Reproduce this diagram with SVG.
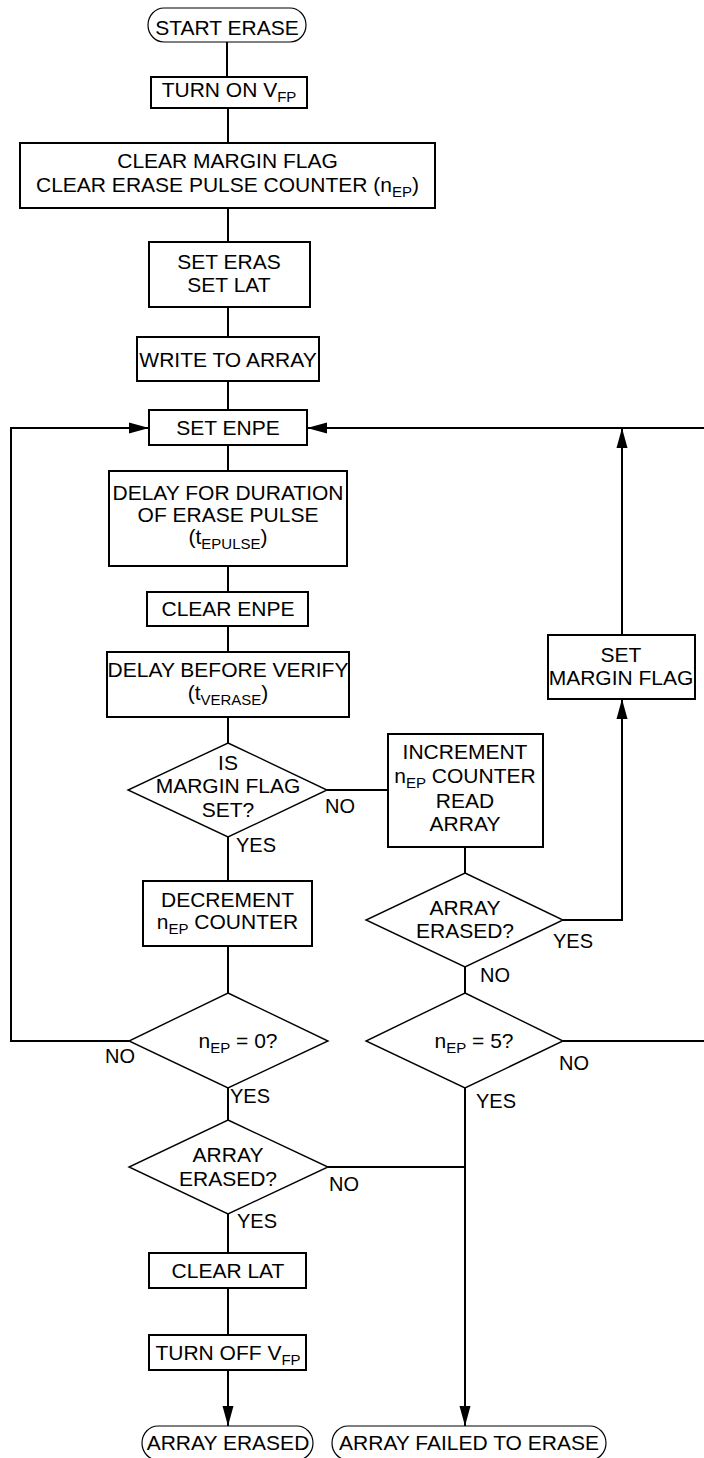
<svg xmlns="http://www.w3.org/2000/svg" width="704" height="1458" viewBox="0 0 704 1458">
<style>
  text { font-family: "Liberation Sans", Arial, sans-serif; font-size: 21px; fill: #000; }
  .c { text-anchor: middle; }
  .lbl { font-size: 20px; }
  .sub { font-size: 15px; }
  .box { fill: #fff; stroke: #000; stroke-width: 2; }
  .dia { fill: #fff; stroke: #000; stroke-width: 1.4; }
  .term { fill: #fff; stroke: #000; stroke-width: 1.2; }
  .ln { fill: none; stroke: #000; stroke-width: 2; }
  .arr { fill: none; stroke: #000; stroke-width: 2; marker-end: url(#ah); }
</style>
<defs>
  <marker id="ah" markerUnits="userSpaceOnUse" markerWidth="20" markerHeight="12" refX="20" refY="6" orient="auto">
    <path d="M0,0.5 L20,6 L0,11.5 z" fill="#000"/>
  </marker>
</defs>
<rect width="704" height="1458" fill="#fff"/>

<g id="connectors">
  <path class="ln" d="M227,42 V77"/>
  <path class="ln" d="M228,108 V143"/>
  <path class="ln" d="M228,208 V242"/>
  <path class="ln" d="M228,307 V337"/>
  <path class="ln" d="M228,381 V410"/>
  <path class="ln" d="M228,445 V471"/>
  <path class="ln" d="M228,566 V592"/>
  <path class="ln" d="M228,626 V652"/>
  <path class="ln" d="M228,717 V743"/>
  <path class="ln" d="M228,837 V881"/>
  <path class="ln" d="M228,946 V993"/>
  <path class="ln" d="M228,1088 V1120"/>
  <path class="ln" d="M228,1214 V1253"/>
  <path class="ln" d="M228,1288 V1335"/>
  <path class="arr" d="M228,1370 V1426"/>
  <path class="ln" d="M327,790 H388"/>
  <path class="ln" d="M465,847 V873"/>
  <path class="ln" d="M465,967 V993"/>
  <path class="arr" d="M465,1088 V1426"/>
  <path class="ln" d="M328,1167 H465"/>
  <path class="arr" d="M563,920 H622 V699"/>
  <path class="arr" d="M622,635 V428"/>
  <path class="ln" d="M563,1041 H707 V428"/>
  <path class="arr" d="M707,428 H307"/>
  <path class="arr" d="M129,1041 H11 V428 H149"/>
</g>

<g id="start">
  <rect class="term" x="148" y="8" width="158" height="34" rx="16" ry="17"/>
  <text class="c" x="227" y="35">START ERASE</text>
</g>
<g id="turn-on">
  <rect class="box" x="151" y="77" width="156" height="31"/>
  <text class="c" x="229" y="97">TURN ON V<tspan class="sub" dy="5">FP</tspan></text>
</g>
<g id="clear-margin">
  <rect class="box" x="20" y="143" width="415" height="65"/>
  <text class="c" x="227.5" y="168">CLEAR MARGIN FLAG</text>
  <text class="c" x="227.5" y="192">CLEAR ERASE PULSE COUNTER (n<tspan class="sub" dy="5">EP</tspan><tspan dy="-5">)</tspan></text>
</g>
<g id="set-eras">
  <rect class="box" x="149" y="242" width="161" height="65"/>
  <text class="c" x="229" y="269">SET ERAS</text>
  <text class="c" x="229" y="292">SET LAT</text>
</g>
<g id="write-array">
  <rect class="box" x="137" y="337" width="182" height="44"/>
  <text class="c" x="228" y="367">WRITE TO ARRAY</text>
</g>
<g id="set-enpe">
  <rect class="box" x="149" y="410" width="158" height="35"/>
  <text class="c" x="228" y="435">SET ENPE</text>
</g>
<g id="delay-pulse">
  <rect class="box" x="109" y="471" width="238" height="95"/>
  <text class="c" x="228" y="500">DELAY FOR DURATION</text>
  <text class="c" x="228" y="522">OF ERASE PULSE</text>
  <text class="c" x="228" y="544">(t<tspan class="sub" dy="5">EPULSE</tspan><tspan dy="-5">)</tspan></text>
</g>
<g id="clear-enpe">
  <rect class="box" x="147" y="592" width="161" height="34"/>
  <text class="c" x="228" y="616">CLEAR ENPE</text>
</g>
<g id="delay-verify">
  <rect class="box" x="107" y="652" width="242" height="65"/>
  <text class="c" x="228" y="677">DELAY BEFORE VERIFY</text>
  <text class="c" x="228" y="700">(t<tspan class="sub" dy="5">VERASE</tspan><tspan dy="-5">)</tspan></text>
</g>
<g id="margin-set">
  <polygon class="dia" points="228,743 327,790 228,837 128,790"/>
  <text class="c" x="228" y="770">IS</text>
  <text class="c" x="228" y="793">MARGIN FLAG</text>
  <text class="c" x="228" y="817">SET?</text>
  <text class="lbl" x="325" y="813">NO</text>
  <text class="lbl" x="236" y="852">YES</text>
</g>
<g id="increment">
  <rect class="box" x="388" y="734" width="155" height="113"/>
  <text class="c" x="465" y="759">INCREMENT</text>
  <text class="c" x="465" y="783">n<tspan class="sub" dy="5">EP</tspan><tspan dy="-5"> COUNTER</tspan></text>
  <text class="c" x="465" y="808">READ</text>
  <text class="c" x="465" y="831">ARRAY</text>
</g>
<g id="set-margin">
  <rect class="box" x="548" y="635" width="147" height="64"/>
  <text class="c" x="621" y="662">SET</text>
  <text class="c" x="621" y="685">MARGIN FLAG</text>
</g>
<g id="decrement">
  <rect class="box" x="143" y="881" width="169" height="65"/>
  <text class="c" x="227.5" y="907">DECREMENT</text>
  <text class="c" x="227.5" y="929">n<tspan class="sub" dy="5">EP</tspan><tspan dy="-5"> COUNTER</tspan></text>
</g>
<g id="erased-right">
  <polygon class="dia" points="465,873 563,920 465,967 366,920"/>
  <text class="c" x="465" y="915">ARRAY</text>
  <text class="c" x="465" y="938">ERASED?</text>
  <text class="lbl" x="553" y="948">YES</text>
  <text class="lbl" x="480" y="982">NO</text>
</g>
<g id="nep-zero">
  <polygon class="dia" points="228,993 328,1041 228,1088 129,1041"/>
  <text class="c" x="238" y="1048">n<tspan class="sub" dy="5">EP</tspan><tspan dy="-5"> = 0?</tspan></text>
  <text class="lbl" x="105" y="1063">NO</text>
  <text class="lbl" x="230" y="1103">YES</text>
</g>
<g id="nep-five">
  <polygon class="dia" points="465,993 563,1041 465,1088 366,1041"/>
  <text class="c" x="474" y="1048">n<tspan class="sub" dy="5">EP</tspan><tspan dy="-5"> = 5?</tspan></text>
  <text class="lbl" x="559" y="1070">NO</text>
  <text class="lbl" x="476" y="1108">YES</text>
</g>
<g id="erased-left">
  <polygon class="dia" points="228,1120 328,1167 228,1214 129,1167"/>
  <text class="c" x="228" y="1162">ARRAY</text>
  <text class="c" x="228" y="1186">ERASED?</text>
  <text class="lbl" x="329" y="1191">NO</text>
  <text class="lbl" x="237" y="1228">YES</text>
</g>
<g id="clear-lat">
  <rect class="box" x="149" y="1253" width="157" height="35"/>
  <text class="c" x="228" y="1278">CLEAR LAT</text>
</g>
<g id="turn-off">
  <rect class="box" x="149" y="1335" width="157" height="35"/>
  <text class="c" x="228" y="1360">TURN OFF V<tspan class="sub" dy="5">FP</tspan></text>
</g>
<g id="end-erased">
  <rect class="term" x="142" y="1426" width="171" height="34" rx="16" ry="17"/>
  <text class="c" x="228" y="1450">ARRAY ERASED</text>
</g>
<g id="end-failed">
  <rect class="term" x="332" y="1426" width="274" height="34" rx="16" ry="17"/>
  <text class="c" x="469" y="1450">ARRAY FAILED TO ERASE</text>
</g>
</svg>
